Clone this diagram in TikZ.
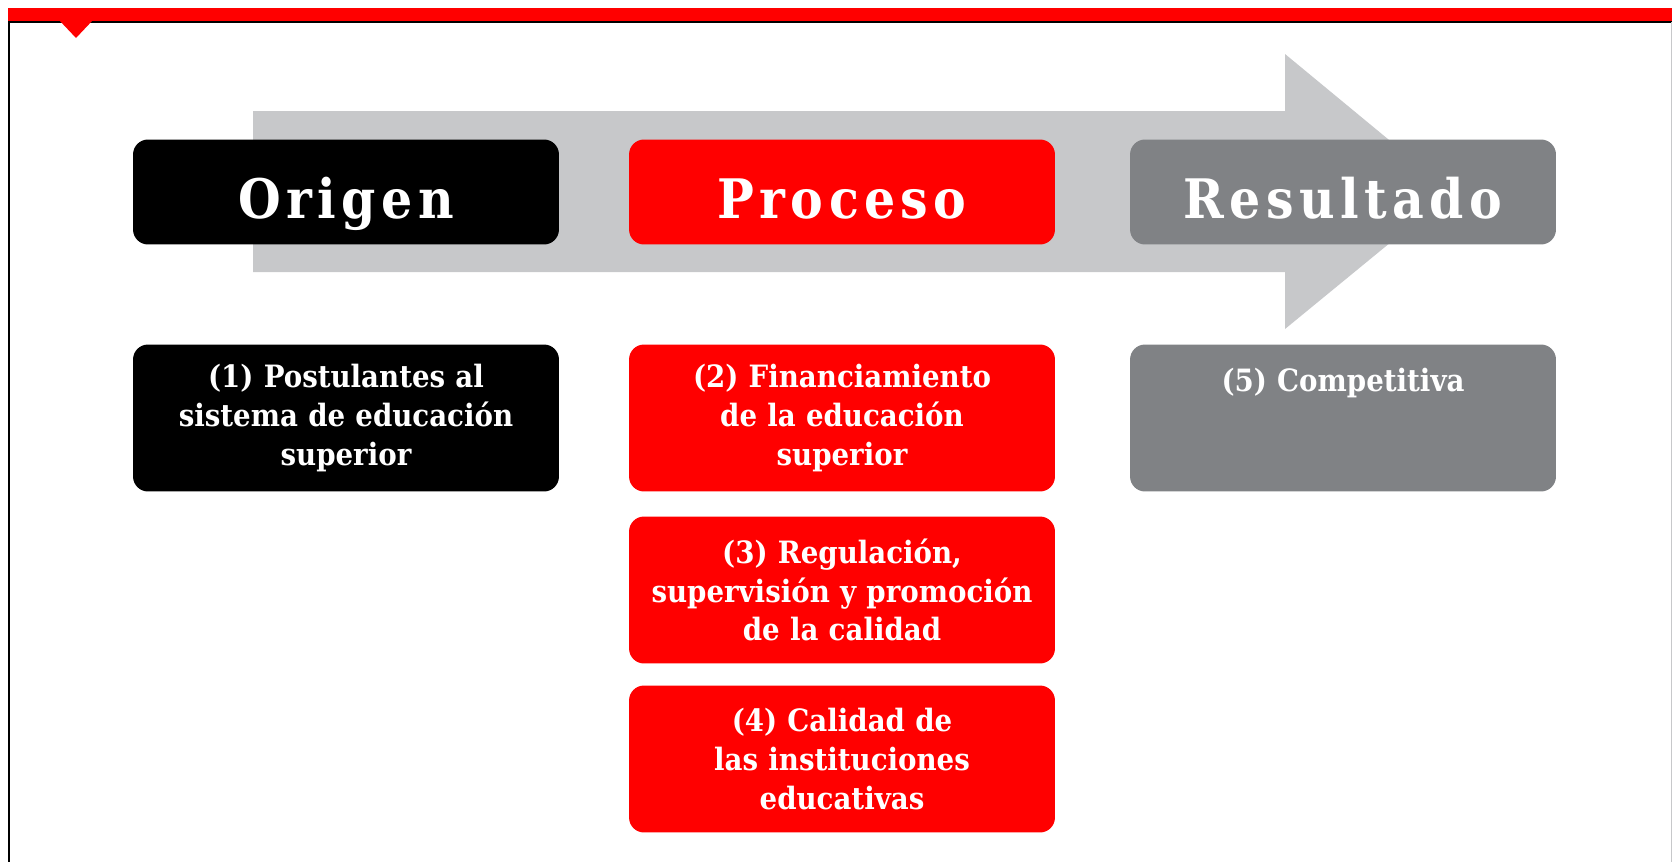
\documentclass[tikz,border=0pt]{standalone}
\usepackage{fontspec}
\setmainfont{DejaVu Serif}
\newfontfamily\titlefont[LetterSpace=10]{DejaVu Serif Condensed}
\newfontfamily\boxfont{DejaVu Serif Condensed}
\usetikzlibrary{positioning}
\definecolor{rojo}{HTML}{FF0000}
\definecolor{grisosc}{HTML}{808285}
\definecolor{grisclaro}{HTML}{C7C8CA}

\begin{document}
\begin{tikzpicture}[
    x=0.02cm, y=-0.02cm,
    titlebox/.style={rounded corners=0.3cm, minimum width=8.52cm, minimum height=2.1cm,
        inner sep=0pt, text height=1.3cm, text depth=0.22cm, text=white,
        font=\titlefont\bfseries\fontsize{31}{36}\selectfont},
    itembox/.style={rounded corners=0.3cm, minimum width=8.52cm, minimum height=2.94cm,
        text width=8.2cm, align=center, inner sep=0.1cm, text=white,
        font=\boxfont\bfseries\fontsize{17.5}{22}\selectfont}
]
    \useasboundingbox (0,0) rectangle (1672,862);

    % frame
    \fill[rojo] (8,8) rectangle (1672,21);
    \draw[line width=0.04cm] (8,22) -- (1672,22);
    \draw[line width=0.04cm] (9,21) -- (9,862);
    \draw[grisclaro, line width=0.02cm] (1671,22) -- (1671,862);
    \fill[rojo] (59,20) -- (93,20) -- (76,38) -- cycle;

    % big arrow
    \fill[grisclaro] (253,111) -- (1285,111) -- (1285,54) -- (1452,192)
        -- (1285,329) -- (1285,272) -- (253,272) -- cycle;

    % headings
    \node[titlebox, fill=black] (origen) at (346,192) {Origen};
    \node[titlebox, fill=rojo] (proceso) at (842,192) {Proceso};
    \node[titlebox, fill=grisosc] (resultado) at (1343,192) {Resultado};

    % items
    \node[itembox, fill=black] (postulantes) at (346,418) {(1) Postulantes al\\sistema de educación\\superior};
    \node[itembox, fill=rojo] (financiamiento) at (842,418) {(2) Financiamiento\\de la educación\\superior};
    \node[itembox, fill=rojo] (regulacion) at (842,590) {(3) Regulación,\\supervisión y promoción\\de la calidad};
    \node[itembox, fill=rojo] (calidad) at (842,759) {(4) Calidad de\\las instituciones\\educativas};
    \node[itembox, fill=grisosc] (competitiva) at (1343,418) {(5) Competitiva\\~\\~};
\end{tikzpicture}
\end{document}
